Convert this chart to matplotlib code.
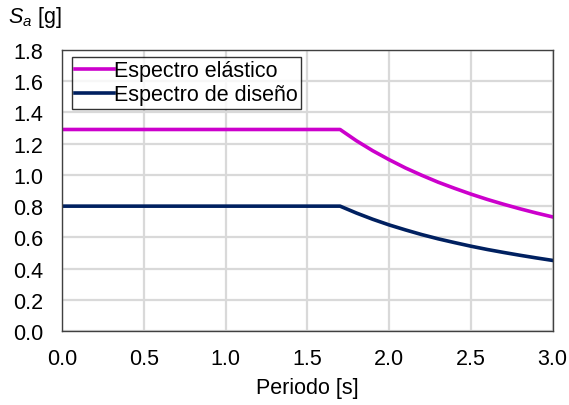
import matplotlib
matplotlib.use("Agg")
import matplotlib.pyplot as plt
from matplotlib.ticker import FormatStrFormatter

plt.rcParams['font.family'] = ['Liberation Sans', 'DejaVu Sans']
plt.rcParams['mathtext.fontset'] = 'custom'
plt.rcParams['mathtext.rm'] = 'Liberation Sans'
plt.rcParams['mathtext.it'] = 'Liberation Sans:italic'

# Period [s]
periodo = [0.0, 1.7, 1.8, 1.9, 2.0, 2.1, 2.2, 2.3, 2.4, 2.5, 2.6, 2.7, 2.8, 2.9, 3.0]
# Spectral acceleration [g]
sa_elastico = [1.29, 1.29, 1.218, 1.154, 1.097, 1.044, 0.997, 0.953, 0.914, 0.877,
               0.843, 0.812, 0.783, 0.756, 0.731]
sa_diseno = [0.80, 0.80, 0.756, 0.716, 0.68, 0.648, 0.618, 0.591, 0.567, 0.544,
             0.523, 0.504, 0.486, 0.469, 0.453]

FS = 15.5

fig = plt.figure(figsize=(5.69, 4.06), dpi=100)
ax = fig.add_axes([62 / 569, 1 - 332.3 / 406, (552.7 - 62) / 569, (332.3 - 50.7) / 406])

ax.plot(periodo, sa_elastico, color='#CC00CC', lw=2.6, label='Espectro elástico',
        solid_joinstyle='round')
ax.plot(periodo, sa_diseno, color='#002060', lw=2.6, label='Espectro de diseño',
        solid_joinstyle='round')

ax.set_xlim(0, 3.0)
ax.set_ylim(0, 1.8)
ax.set_xticks([0.0, 0.5, 1.0, 1.5, 2.0, 2.5, 3.0])
ax.set_yticks([0.0, 0.2, 0.4, 0.6, 0.8, 1.0, 1.2, 1.4, 1.6, 1.8])
ax.xaxis.set_major_formatter(FormatStrFormatter('%.1f'))
ax.yaxis.set_major_formatter(FormatStrFormatter('%.1f'))
ax.tick_params(length=0, labelsize=FS, colors='#000000')
ax.tick_params(axis='x', pad=12)
ax.tick_params(axis='y', pad=13.5)
ax.grid(True, color='#d9d9d9', lw=1.6)
ax.set_axisbelow(True)
for s in ax.spines.values():
    s.set_color('#404040')
    s.set_linewidth(1.0)

ax.set_xlabel('Periodo [s]', fontsize=FS, labelpad=6)
fig.text(8 / 569, 1 - 17 / 406, r'$S_a$ [g]', fontsize=FS, ha='left', va='center')

leg = ax.legend(loc='upper left', bbox_to_anchor=((72 - 62) / 490.7, 1 - 7.3 / 281.6),
                fontsize=FS, frameon=True, fancybox=False, edgecolor='#000000',
                handlelength=1.8, handletextpad=0.0, borderpad=0.15,
                labelspacing=0.15, borderaxespad=0.0)
leg.get_frame().set_linewidth(1.0)

fig.savefig('out.png', dpi=100, facecolor='white')
